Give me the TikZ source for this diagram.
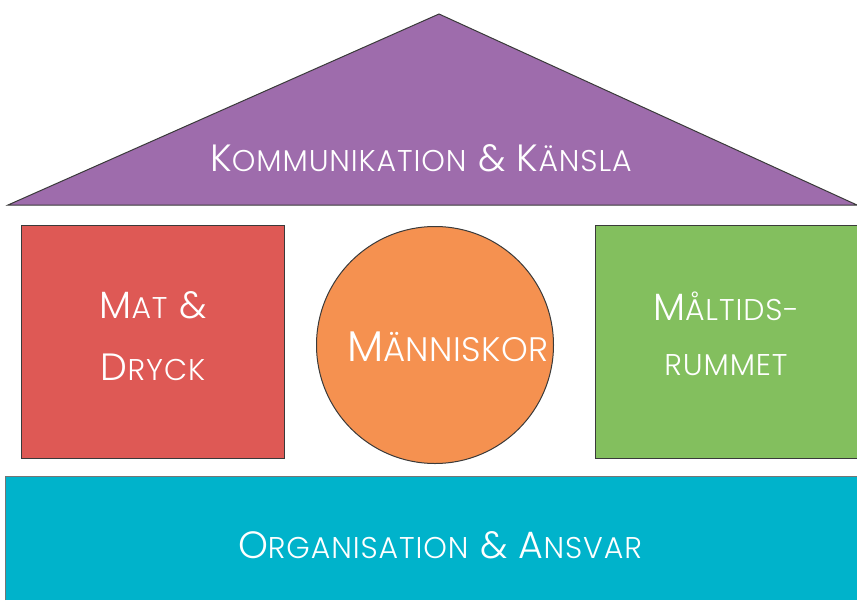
\documentclass[tikz,border=0pt]{standalone}
\usepackage{fontspec}
\setmainfont{Poppins}[UprightFont=* Light, LetterSpace=3]
\usetikzlibrary{positioning}

\definecolor{roofpurple}{HTML}{9E6CAC}
\definecolor{matred}{HTML}{DE5955}
\definecolor{folkorange}{HTML}{F59150}
\definecolor{rumgreen}{HTML}{83BF5E}
\definecolor{orgteal}{HTML}{00B3CB}
\definecolor{edgegray}{HTML}{3A3A3A}

% fake small caps: big initial, smaller rest
\newcommand{\SC}[2]{{\fontsize{19}{31}\selectfont #1}{\fontsize{15}{31}\selectfont #2}}
\newcommand{\SCL}[2]{{\fontsize{21.5}{31}\selectfont #1}{\fontsize{17}{31}\selectfont\addfontfeatures{LetterSpace=1.5} #2}}

\begin{document}
\begin{tikzpicture}[x=0.5pt, y=-0.5pt,
                    edge/.style={draw=edgegray, line width=0.5pt},
                    pillar/.style={rectangle, edge, minimum width=131.5pt, minimum height=116.5pt},
                    lbl/.style={text=white, align=center, font=\fontsize{19}{31}\selectfont}
                    ]
    \useasboundingbox (0,0) rectangle (857,600);
    % roof
    \filldraw[roofpurple, edge, fill=roofpurple] (8,205) -- (439,14) -- (857,205) -- cycle;
    \node (roof) [lbl] at (421,158) {\SC{K}{OMMUNIKATION} \SC{\&}{} \SC{K}{ÄNSLA}};
    % walls
    \node (mat) [pillar, fill=matred] at (152.5,341.5) {};
    \node (matl) [lbl] at (153,336) {\SC{M}{AT} \SC{\&}{}\\\SC{D}{RYCK}};
    \node (rum) [pillar, fill=rumgreen, minimum width=131pt] at (726,341.5) {};
    \node (ruml) [lbl, font=\fontsize{19}{27.5}\selectfont] at (726,334) {\SC{M}{ÅLTIDS-}\\\SC{}{RUMMET}};
    \node (folk) [circle, edge, fill=folkorange, minimum size=118.5pt, inner sep=0pt] at (435,345) {};
    \node (folkl) [lbl] at (448,347) {\SCL{M}{ÄNNISKOR}};
    % foundation
    \fill[orgteal] (5,476) rectangle (857,600);
    \draw[draw=edgegray!70, line width=0.5pt] (5,600) -- (5,476) -- (857,476);
    \node (org) [lbl] at (440,545) {\SC{O}{RGANISATION} \SC{\&}{} \SC{A}{NSVAR}};
\end{tikzpicture}
\end{document}
